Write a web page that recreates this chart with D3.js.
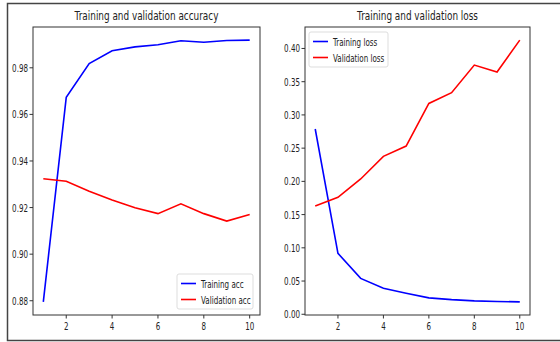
<!DOCTYPE html>
<html>
<head>
<meta charset="utf-8">
<script src="https://cdn.jsdelivr.net/npm/d3@7"></script>
<style>
  body { margin: 0; background: #fff; }
  text { font-family: "DejaVu Sans", sans-serif; fill: #222; }
</style>
</head>
<body>
<div id="chart"></div>
<script>
// epochs and history values
var epochs = [1, 2, 3, 4, 5, 6, 7, 8, 9, 10];
var trainAcc = [0.8795, 0.9673, 0.9818, 0.9873, 0.9890, 0.9899, 0.9916, 0.9910, 0.9917, 0.9919];
var valAcc = [0.9324, 0.9313, 0.9270, 0.9232, 0.9199, 0.9174, 0.9216, 0.9174, 0.9142, 0.9170];
var trainLoss = [0.2788, 0.0917, 0.0540, 0.0390, 0.0316, 0.0247, 0.0220, 0.0202, 0.0193, 0.0186];
var valLoss = [0.1630, 0.1760, 0.2036, 0.2376, 0.2532, 0.3173, 0.3334, 0.3750, 0.3645, 0.4126];
var xTicks = [2, 4, 6, 8, 10];
var accTicks = [0.88, 0.90, 0.92, 0.94, 0.96, 0.98];
var lossTicks = [0.00, 0.05, 0.10, 0.15, 0.20, 0.25, 0.30, 0.35, 0.40];

var W = 560, H = 342;
var sx = 0.68; // the picture is squeezed sideways, so text is too

var svg = d3.select("#chart").append("svg")
    .attr("width", W)
    .attr("height", H);

// outer frame
svg.append("path")
    .attr("d", "M560,3.5 H7.5 V340.5 H560")
    .style("fill", "none")
    .style("stroke", "#444")
    .style("stroke-width", 1.5);

// squeezed text helper
function label(g, x, y, txt, size, anchor, k) {
    return g.append("text")
        .attr("transform", "translate(" + x + "," + y + ") scale(" + (k || sx) + ",1)")
        .attr("text-anchor", anchor || "start")
        .style("font-size", size + "px")
        .text(txt);
}

function panel(cfg) {
    var g = svg.append("g");
    var x = d3.scaleLinear().domain([0.55, 10.45]).range([cfg.left, cfg.right]);
    var lo = d3.min(cfg.series, function(s) { return d3.min(s.values); }),
        hi = d3.max(cfg.series, function(s) { return d3.max(s.values); }),
        pad = (hi - lo) * 0.05;
    var y = d3.scaleLinear().domain([lo - pad, hi + pad]).range([cfg.bottom, cfg.top]);

    // ticks
    var xt = g.selectAll(".xt").data(xTicks).enter().append("g");
    xt.append("line")
        .attr("x1", function(d) { return x(d); }).attr("x2", function(d) { return x(d); })
        .attr("y1", cfg.bottom).attr("y2", cfg.bottom + 3.5)
        .style("stroke", "#333");
    xt.each(function(d) {
        label(d3.select(this), x(d), cfg.bottom + 15, d, 10.5, "middle");
    });

    var yt = g.selectAll(".yt").data(cfg.ticks).enter().append("g");
    yt.append("line")
        .attr("x1", cfg.left - 3.5).attr("x2", cfg.left)
        .attr("y1", function(d) { return y(d); }).attr("y2", function(d) { return y(d); })
        .style("stroke", "#333");
    yt.each(function(d) {
        label(d3.select(this), cfg.left - 5, y(d) + 4, d3.format(".2f")(d), 10.5, "end");
    });

    // lines
    var line = d3.line()
        .x(function(d, i) { return x(epochs[i]); })
        .y(function(d) { return y(d); });
    cfg.series.forEach(function(s) {
        g.append("path")
            .attr("d", line(s.values))
            .style("fill", "none")
            .style("stroke", s.color)
            .style("stroke-width", 1.6);
    });

    // spines
    g.append("rect")
        .attr("x", cfg.left).attr("y", cfg.top)
        .attr("width", cfg.right - cfg.left).attr("height", cfg.bottom - cfg.top)
        .style("fill", "none")
        .style("stroke", "#333")
        .style("stroke-width", 1);

    label(g, (cfg.left + cfg.right) / 2, cfg.top - 7, cfg.title, 12.5, "middle", 0.71);

    // legend
    var lg = g.append("g").attr("transform", "translate(" + cfg.legend[0] + "," + cfg.legend[1] + ")");
    lg.append("rect")
        .attr("width", cfg.legend[2]).attr("height", 35)
        .attr("rx", 2)
        .style("fill", "rgba(255,255,255,0.8)")
        .style("stroke", "#ddd");
    cfg.series.forEach(function(s, i) {
        var ly = 9.5 + i * 16;
        lg.append("line")
            .attr("x1", 4).attr("x2", 19)
            .attr("y1", ly).attr("y2", ly)
            .style("stroke", s.color)
            .style("stroke-width", 1.6);
        label(lg, 24, ly + 4, s.name, 10.5, "start");
    });
}

panel({
    left: 33, right: 260, top: 27, bottom: 315,
    title: "Training and validation accuracy",
    ticks: accTicks,
    series: [
        { name: "Training acc", values: trainAcc, color: "blue" },
        { name: "Validation acc", values: valAcc, color: "red" }
    ],
    legend: [177, 274, 76]
});

panel({
    left: 305, right: 530, top: 27, bottom: 315,
    title: "Training and validation loss",
    ticks: lossTicks,
    series: [
        { name: "Training loss", values: trainLoss, color: "blue" },
        { name: "Validation loss", values: valLoss, color: "red" }
    ],
    legend: [309, 32, 79]
});
</script>
</body>
</html>
